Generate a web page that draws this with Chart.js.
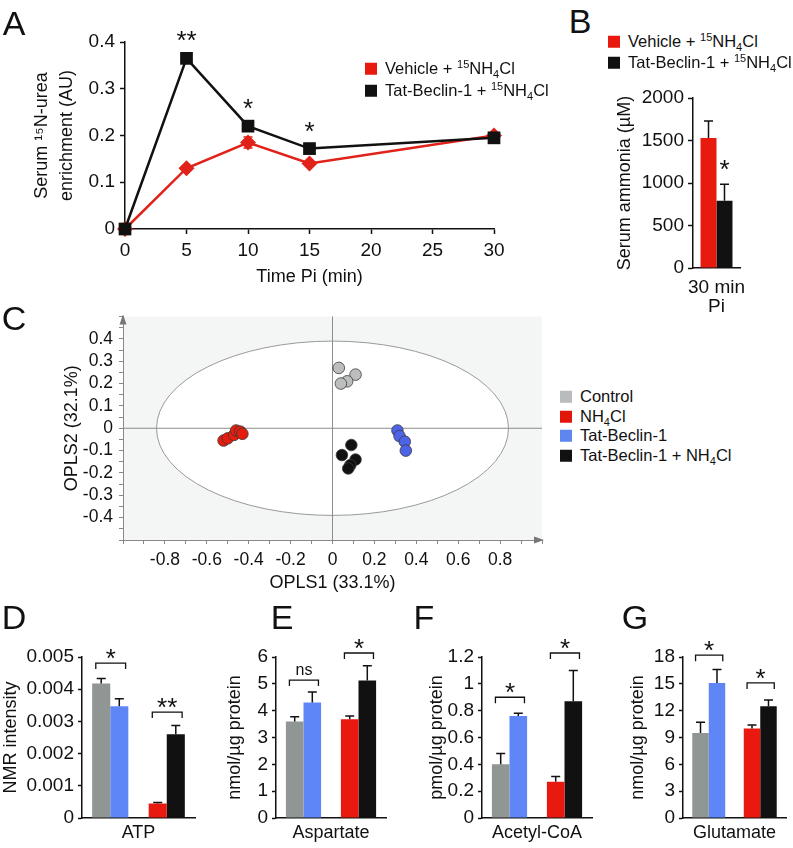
<!DOCTYPE html>
<html>
<head>
<meta charset="utf-8">
<script src="https://cdn.jsdelivr.net/npm/chart.js@4.4.1/dist/chart.umd.min.js"></script>
<style>
body { margin: 0; background: #fff; }
#wrap { position: relative; width: 793px; height: 848px; overflow: hidden; background: #fff;
        font-family: "Liberation Sans", Arial, Helvetica, sans-serif; color: #111; }
canvas { position: absolute; }
.lt { position: absolute; font-size: 34px; line-height: 1; transform: translate(-50%, -50%); }
.lg { position: absolute; font-size: 16.5px; line-height: 1; white-space: nowrap; transform: translateY(-50%); }
.lg i { display: inline-block; width: 12px; height: 12px; margin-right: 8px; vertical-align: -1px; }
sup { font-size: 11px; vertical-align: 6px; line-height: 0; }
sub { font-size: 11px; vertical-align: -4px; line-height: 0; }
</style>
</head>
<body>
<div id="wrap">
  <canvas id="cA" width="530" height="300" style="left:0;top:0"></canvas>
  <canvas id="cB" width="193" height="240" style="left:600px;top:80px"></canvas>
  <canvas id="cC" width="550" height="300" style="left:0;top:300px"></canvas>
  <canvas id="cD" width="210" height="248" style="left:0;top:600px"></canvas>
  <canvas id="cE" width="200" height="248" style="left:224px;top:600px"></canvas>
  <canvas id="cF" width="200" height="248" style="left:426px;top:600px"></canvas>
  <canvas id="cG" width="166" height="248" style="left:627px;top:600px"></canvas>

  <div class="lt" style="left:14px;top:23px">A</div>
  <div class="lt" style="left:580px;top:21px">B</div>
  <div class="lt" style="left:14px;top:318px">C</div>
  <div class="lt" style="left:14px;top:617px">D</div>
  <div class="lt" style="left:282px;top:617px">E</div>
  <div class="lt" style="left:424px;top:617px">F</div>
  <div class="lt" style="left:635px;top:617px">G</div>

  <div class="lg" style="left:365px;top:68px"><i style="background:#e8190f"></i>Vehicle + <sup>15</sup>NH<sub>4</sub>Cl</div>
  <div class="lg" style="left:365px;top:90px"><i style="background:#111"></i>Tat-Beclin-1 + <sup>15</sup>NH<sub>4</sub>Cl</div>

  <div class="lg" style="left:608px;top:41px"><i style="background:#e8190f"></i>Vehicle + <sup>15</sup>NH<sub>4</sub>Cl</div>
  <div class="lg" style="left:608px;top:62px"><i style="background:#111"></i>Tat-Beclin-1 + <sup>15</sup>NH<sub>4</sub>Cl</div>

  <div class="lg" style="left:560px;top:396px"><i style="background:#b9bcbc"></i>Control</div>
  <div class="lg" style="left:560px;top:416px"><i style="background:#e3160c"></i>NH<sub>4</sub>Cl</div>
  <div class="lg" style="left:560px;top:435px"><i style="background:#5d87ef"></i>Tat-Beclin-1</div>
  <div class="lg" style="left:560px;top:455px"><i style="background:#111"></i>Tat-Beclin-1 + NH<sub>4</sub>Cl</div>
</div>

<script>
// A: serum 15N-urea enrichment
var timePi = [0, 5, 10, 15, 30];
var vehicleUrea = [0, 0.13, 0.185, 0.14, 0.2];
var vehicleUreaErr = [0, 0, 0.012, 0, 0];
var tatUrea = [0, 0.365, 0.22, 0.172, 0.195];
var ureaStars = ['', '**', '*', '*', ''];

// B: serum ammonia
var ammoniaLabels = [['30 min', 'Pi']];
var vehicleAmmonia = [1530];
var vehicleAmmoniaErr = [200];
var tatAmmonia = [790];
var tatAmmoniaErr = [195];

// C: OPLS score plot
var controlPts = [[0.03, 0.27], [0.11, 0.24], [0.07, 0.21], [0.04, 0.2]];
var nh4Pts = [[-0.52, -0.055], [-0.5, -0.045], [-0.47, -0.03], [-0.46, -0.01], [-0.44, -0.015], [-0.43, -0.025]];
var tatPts = [[0.31, -0.01], [0.32, -0.035], [0.345, -0.06], [0.35, -0.1]];
var tatNh4Pts = [[0.09, -0.075], [0.045, -0.12], [0.11, -0.14], [0.085, -0.165], [0.075, -0.18]];
var ellipseRadii = [0.84, 0.39];

// D-G: metabolites
var metabolites = ['ATP', 'Aspartate', 'Acetyl-CoA', 'Glutamate'];
var metaboliteUnits = ['NMR intensity', 'nmol/\u00b5g protein', 'pmol/\u00b5g protein', 'nmol/\u00b5g protein'];
var controlVals = [0.00418, 3.6, 0.4, 9.5];
var controlErr = [0.00015, 0.17, 0.08, 1.2];
var tatVals = [0.00347, 4.3, 0.76, 15.1];
var tatErr = [0.00023, 0.4, 0.02, 1.5];
var nh4Vals = [0.00045, 3.68, 0.27, 10.0];
var nh4Err = [0.00003, 0.12, 0.04, 0.4];
var tatNh4Vals = [0.0026, 5.12, 0.87, 12.5];
var tatNh4Err = [0.00027, 0.55, 0.23, 0.7];
var yMaxes = [0.005, 6, 1.2, 18];
var ySteps = [0.001, 1, 0.2, 3];
var leftSig = ['*', 'ns', '*', '*'];
var leftSigAt = [0.00481, 5.14, 0.9, 18.2];
var rightSig = ['**', '*', '*', '*'];
var rightSigAt = [0.00329, 6.15, 1.23, 15.1];

var RED = '#e8190f', BLACK = '#111111', GRAY = '#8f9693', BLUE = '#5f86f6';
var FONT = '"Liberation Sans", Arial, Helvetica, sans-serif';
var TICK = { size: 19 };

Chart.defaults.font.family = FONT;
Chart.defaults.font.size = 18;
Chart.defaults.color = '#111';

function val(d) { return (d !== null && typeof d === 'object') ? d.y : d; }

// error bars, drawn through the y scale
var errPlugin = {
  id: 'errBars',
  afterDatasetsDraw: function(chart) {
    var ctx = chart.ctx, ys = chart.scales.y;
    chart.data.datasets.forEach(function(ds, di) {
      if (!ds.errors) return;
      chart.getDatasetMeta(di).data.forEach(function(el, i) {
        var e = ds.errors[i];
        if (!e) return;
        var v = val(ds.data[i]);
        var yTop = ys.getPixelForValue(v + e);
        var yBot = ds.errBoth ? ys.getPixelForValue(v - e) : el.y;
        ctx.save();
        ctx.strokeStyle = ds.errColor || '#111';
        ctx.lineWidth = 1.5;
        ctx.beginPath();
        ctx.moveTo(el.x, yBot); ctx.lineTo(el.x, yTop);
        ctx.moveTo(el.x - 4.5, yTop); ctx.lineTo(el.x + 4.5, yTop);
        if (ds.errBoth) { ctx.moveTo(el.x - 4.5, yBot); ctx.lineTo(el.x + 4.5, yBot); }
        ctx.stroke();
        ctx.restore();
      });
    });
  }
};

// stars above single points / bars
var starPlugin = {
  id: 'stars',
  afterDatasetsDraw: function(chart) {
    var ctx = chart.ctx, ys = chart.scales.y;
    chart.data.datasets.forEach(function(ds, di) {
      if (!ds.stars) return;
      chart.getDatasetMeta(di).data.forEach(function(el, i) {
        var s = ds.stars[i];
        if (!s) return;
        var top = ys.getPixelForValue(val(ds.data[i]) + (ds.errors ? ds.errors[i] : 0));
        ctx.save();
        ctx.fillStyle = '#111';
        ctx.font = '26px ' + FONT;
        ctx.textAlign = 'center';
        ctx.textBaseline = 'alphabetic';
        ctx.fillText(s, el.x, top - (ds.starGap || 6));
        ctx.restore();
      });
    });
  }
};

// significance brackets between paired bars
var sigPlugin = {
  id: 'sig',
  afterDatasetsDraw: function(chart, args, opts) {
    if (!opts.items) return;
    var ctx = chart.ctx, ys = chart.scales.y;
    opts.items.forEach(function(it) {
      var a = chart.getDatasetMeta(0).data[it.group];
      var b = chart.getDatasetMeta(1).data[it.group];
      var y = ys.getPixelForValue(it.y);
      var x1 = a.x - a.width * 0.3, x2 = b.x + b.width * 0.35;
      ctx.save();
      ctx.strokeStyle = '#111';
      ctx.lineWidth = 1.3;
      ctx.beginPath();
      ctx.moveTo(x1, y + 6); ctx.lineTo(x1, y); ctx.lineTo(x2, y); ctx.lineTo(x2, y + 6);
      ctx.stroke();
      ctx.fillStyle = '#111';
      ctx.textAlign = 'center';
      ctx.textBaseline = 'alphabetic';
      if (it.text === 'ns') {
        ctx.font = '16px ' + FONT;
        ctx.fillText(it.text, (x1 + x2) / 2, y - 5);
      } else {
        ctx.font = '26px ' + FONT;
        ctx.fillText(it.text, (x1 + x2) / 2, y + 4);
      }
      ctx.restore();
    });
  }
};

// score plot background, ellipse and axis arrows
var scorePlugin = {
  id: 'score',
  beforeDraw: function(chart) {
    var a = chart.chartArea, ctx = chart.ctx;
    ctx.save();
    ctx.fillStyle = '#f4f5f5';
    ctx.fillRect(a.left, a.top, a.right - a.left, a.bottom - a.top);
    ctx.restore();
  },
  beforeDatasetsDraw: function(chart) {
    var ctx = chart.ctx, xs = chart.scales.x, ys = chart.scales.y;
    var cx = xs.getPixelForValue(0), cy = ys.getPixelForValue(0);
    var rx = xs.getPixelForValue(ellipseRadii[0]) - cx;
    var ry = cy - ys.getPixelForValue(ellipseRadii[1]);
    ctx.save();
    ctx.fillStyle = '#ffffff';
    ctx.strokeStyle = '#9a9a9a';
    ctx.lineWidth = 1;
    ctx.beginPath();
    ctx.ellipse(cx, cy, rx, ry, 0, 0, Math.PI * 2);
    ctx.fill();
    ctx.stroke();
    // zero lines over the white ellipse
    ctx.strokeStyle = '#8c8c8c';
    ctx.beginPath();
    ctx.moveTo(cx, chart.chartArea.top); ctx.lineTo(cx, chart.chartArea.bottom);
    ctx.moveTo(chart.chartArea.left, cy); ctx.lineTo(chart.chartArea.right, cy);
    ctx.stroke();
    ctx.restore();
  },
  afterDraw: function(chart) {
    var a = chart.chartArea, ctx = chart.ctx;
    ctx.save();
    ctx.fillStyle = '#777';
    ctx.beginPath();
    ctx.moveTo(a.left, a.top - 2); ctx.lineTo(a.left - 3.5, a.top + 8); ctx.lineTo(a.left + 3.5, a.top + 8);
    ctx.closePath(); ctx.fill();
    ctx.beginPath();
    ctx.moveTo(a.right + 2, a.bottom); ctx.lineTo(a.right - 8, a.bottom - 3.5); ctx.lineTo(a.right - 8, a.bottom + 3.5);
    ctx.closePath(); ctx.fill();
    ctx.restore();
  }
};

var common = {
  responsive: false,
  animation: false,
  devicePixelRatio: 1,
  events: [],
  plugins: { legend: { display: false }, tooltip: { enabled: false } }
};

function opts(extra) {
  var o = {};
  for (var k in common) o[k] = common[k];
  for (var k2 in extra) o[k2] = extra[k2];
  return o;
}

// ---------- A ----------
new Chart(document.getElementById('cA'), {
  type: 'line',
  data: {
    datasets: [{
      label: 'Tat-Beclin-1 + 15NH4Cl',
      data: timePi.map(function(t, i) { return { x: t, y: tatUrea[i] }; }),
      borderColor: BLACK, backgroundColor: BLACK, borderWidth: 2.5,
      pointStyle: 'rect', pointRadius: 9, pointBorderWidth: 0,
      stars: ureaStars, starGap: 9, clip: false
    }, {
      label: 'Vehicle + 15NH4Cl',
      data: timePi.map(function(t, i) { return { x: t, y: vehicleUrea[i] }; }),
      borderColor: '#e0221a', backgroundColor: '#e0221a', borderWidth: 2.5,
      pointStyle: 'rectRot', pointRadius: 8, pointBorderWidth: 0,
      errors: vehicleUreaErr, errBoth: true, errColor: '#e0221a', clip: false
    }]
  },
  options: opts({
    layout: { padding: { top: 42, right: 36, left: 0, bottom: 0 } },
    scales: {
      x: {
        type: 'linear', min: 0, max: 30,
        afterFit: function(s) { s.height = 71; },
        grid: { drawOnChartArea: false, tickLength: 5, tickColor: '#111', tickWidth: 1.5 },
        border: { color: '#111', width: 1.5 },
        ticks: { stepSize: 5, padding: 5, font: TICK },
        title: { display: true, text: 'Time Pi (min)', padding: { top: 0, bottom: 12 } }
      },
      y: {
        min: 0, max: 0.4,
        afterFit: function(s) { s.width = 125; },
        grid: { drawOnChartArea: false, tickLength: 5, tickColor: '#111', tickWidth: 1.5 },
        border: { color: '#111', width: 1.5 },
        ticks: { stepSize: 0.1, padding: 5, font: TICK, callback: function(v) { return v === 0 ? '0' : v.toFixed(1); } },
        title: { display: true, text: ['Serum \u00b9\u2075N-urea', 'enrichment (AU)'],
                 font: { size: 18, lineHeight: 1.39 }, padding: { top: 30, bottom: 0 } }
      }
    }
  }),
  plugins: [errPlugin, starPlugin]
});

// ---------- B ----------
new Chart(document.getElementById('cB'), {
  type: 'bar',
  data: {
    labels: ammoniaLabels,
    datasets: [{
      label: 'Vehicle + 15NH4Cl', data: vehicleAmmonia, errors: vehicleAmmoniaErr,
      backgroundColor: RED, barPercentage: 1, categoryPercentage: 0.68
    }, {
      label: 'Tat-Beclin-1 + 15NH4Cl', data: tatAmmonia, errors: tatAmmoniaErr, stars: ['*'], starGap: 0,
      backgroundColor: BLACK, barPercentage: 1, categoryPercentage: 0.68
    }]
  },
  options: opts({
    layout: { padding: { top: 18, right: 53, left: 0, bottom: 0 } },
    scales: {
      x: {
        afterFit: function(s) { s.height = 52; },
        grid: { display: false },
        border: { color: '#111', width: 1.5 },
        ticks: { padding: 2, font: { size: 19, lineHeight: 1.0 } }
      },
      y: {
        min: 0, max: 2000,
        afterFit: function(s) { s.width = 93; },
        grid: { drawOnChartArea: false, tickLength: 5, tickColor: '#111', tickWidth: 1.5 },
        border: { color: '#111', width: 1.5 },
        ticks: { stepSize: 250, padding: 4, font: TICK, callback: function(v) { return String(v); } },
        title: { display: true, text: 'Serum ammonia (\u00b5M)', padding: { top: 14, bottom: 0 } }
      }
    }
  }),
  plugins: [errPlugin, starPlugin]
});

// ---------- C ----------
function pts(list) { return list.map(function(p) { return { x: p[0], y: p[1] }; }); }
function scoreSet(label, list, color) {
  return { label: label, data: pts(list), backgroundColor: color, borderColor: '#3a3a3a',
           borderWidth: 0.8, pointRadius: 5.8 };
}
new Chart(document.getElementById('cC'), {
  type: 'scatter',
  data: {
    datasets: [
      scoreSet('Control', controlPts, '#bcbebd'),
      scoreSet('NH4Cl', nh4Pts, '#e51d0e'),
      scoreSet('Tat-Beclin-1', tatPts, '#4d63e8'),
      scoreSet('Tat-Beclin-1 + NH4Cl', tatNh4Pts, '#111111')
    ]
  },
  options: opts({
    layout: { padding: { top: 11, right: 8, left: 0, bottom: 0 } },
    scales: {
      x: {
        type: 'linear', min: -1, max: 1,
        afterFit: function(s) { s.height = 60; },
        grid: { drawOnChartArea: false, tickLength: 4, tickColor: '#888' },
        border: { color: '#888', width: 1 },
        ticks: { stepSize: 0.1, autoSkip: false, maxRotation: 0, minRotation: 0, padding: 6, font: { size: 17.5 },
                 callback: function(v) {
                   var r = Math.round(v * 10);
                   if (r % 2 !== 0 || Math.abs(r) === 10) return '';
                   return r === 0 ? '0' : (r / 10).toFixed(1);
                 } },
        title: { display: true, text: 'OPLS1 (33.1%)', padding: { top: 0, bottom: 6 } }
      },
      y: {
        min: -0.5, max: 0.5,
        afterFit: function(s) { s.width = 123; },
        grid: { drawOnChartArea: false, tickLength: 4, tickColor: '#888' },
        border: { color: '#888', width: 1 },
        ticks: { stepSize: 0.05, autoSkip: false, padding: 6, font: { size: 17.5 },
                 callback: function(v) {
                   var r = Math.round(v * 20);
                   if (r % 2 !== 0 || Math.abs(r) === 10) return '';
                   return r === 0 ? '0' : (r / 20).toFixed(1);
                 } },
        title: { display: true, text: 'OPLS2 (32.1%)', padding: { top: 61, bottom: 0 } }
      }
    }
  }),
  plugins: [scorePlugin]
});

// ---------- D-G ----------
var panelIds = ['cD', 'cE', 'cF', 'cG'];
var canvasLeft = [0, 224, 426, 627];
var canvasWidth = [210, 200, 200, 166];
var axisX = [82, 276, 482, 683];
var areaRight = [195, 386, 592, 786];

function barTick(step) {
  return function(v) {
    if (v === 0) return '0';
    if (step < 0.01) return v.toFixed(3);
    return String(parseFloat(v.toFixed(step < 1 ? 1 : 0)));
  };
}

metabolites.forEach(function(name, k) {
  new Chart(document.getElementById(panelIds[k]), {
    type: 'bar',
    data: {
      labels: ['Vehicle', 'NH4Cl'],
      datasets: [{
        label: 'Control / NH4Cl',
        data: [controlVals[k], nh4Vals[k]], errors: [controlErr[k], nh4Err[k]],
        backgroundColor: [GRAY, RED], barPercentage: 1, categoryPercentage: 0.64
      }, {
        label: 'Tat-Beclin-1 / Tat-Beclin-1 + NH4Cl',
        data: [tatVals[k], tatNh4Vals[k]], errors: [tatErr[k], tatNh4Err[k]],
        backgroundColor: [BLUE, BLACK], barPercentage: 1, categoryPercentage: 0.64
      }]
    },
    options: opts({
      layout: { padding: { top: 57, right: canvasWidth[k] - (areaRight[k] - canvasLeft[k]), left: 0, bottom: 0 } },
      plugins: {
        legend: { display: false }, tooltip: { enabled: false },
        sig: { items: [{ group: 0, y: leftSigAt[k], text: leftSig[k] },
                       { group: 1, y: rightSigAt[k], text: rightSig[k] }] }
      },
      scales: {
        x: {
          afterFit: function(s) { s.height = 30; },
          grid: { display: false },
          border: { color: '#111', width: 1.5 },
          ticks: { display: false },
          title: { display: true, text: name, padding: { top: 0, bottom: 4 } }
        },
        y: {
          min: 0, max: yMaxes[k],
          afterFit: function(s) { s.width = axisX[k] - canvasLeft[k]; },
          grid: { drawOnChartArea: false, tickLength: 4, tickColor: '#111', tickWidth: 1.5 },
          border: { color: '#111', width: 1.5 },
          ticks: { stepSize: ySteps[k], padding: 4, font: TICK, callback: barTick(ySteps[k]) },
          title: { display: true, text: metaboliteUnits[k], padding: { top: 0, bottom: 0 } }
        }
      }
    }),
    plugins: [errPlugin, sigPlugin]
  });
});
</script>
</body>
</html>
